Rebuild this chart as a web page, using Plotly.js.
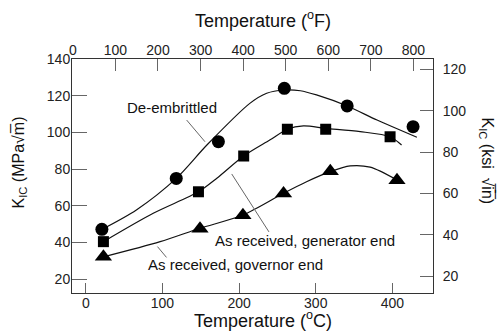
<!DOCTYPE html>
<html>
<head>
<meta charset="utf-8">
<script src="https://cdn.plot.ly/plotly-3.0.1.min.js"></script>
<style>html,body{margin:0;padding:0;background:#fff;}#chart{width:497px;height:333px;}</style>
</head>
<body>
<div id="chart"></div>
<script>
// Measured points (temperature in °C, K_IC in MPa·√m)
const embrT = [21, 118, 173, 259, 341, 427];
const embrK = [47.1, 74.9, 94.9, 124.0, 114.4, 103.1];
const genT = [23, 147, 206, 263, 313, 397];
const genK = [40.4, 67.6, 87.1, 101.7, 101.7, 97.6];
const govT = [23, 149, 205, 258, 319, 406];
const govK = [32.1, 47.5, 54.8, 66.6, 78.8, 73.9];

// Fitted trend curves
const embrFitT = [21, 66, 118, 158, 214, 236, 258, 280, 301, 341, 380, 432];
const embrFitK = [47.1, 57.7, 74.9, 93.1, 115.8, 121.3, 123.1, 122.7, 120.4, 114.4, 106.7, 97.3];
const genFitT = [23, 88, 147, 171, 206, 240, 263, 284, 313, 358, 397, 412];
const genFitK = [40.4, 55.9, 67.6, 75.0, 87.1, 95.8, 101.7, 103.5, 102.2, 100.4, 97.6, 93.1];
const govFitT = [23, 97, 149, 205, 258, 288, 319, 345, 371, 406];
const govFitK = [32.1, 40.4, 47.7, 54.9, 66.8, 73.1, 78.6, 81.7, 81.0, 74.0];

// Tick labels
const tickC = [0, 100, 200, 300, 400];
const tickF = [0, 100, 200, 300, 400, 500, 600, 700, 800];
const tickMPa = [20, 40, 60, 80, 100, 120, 140];
const tickKsi = [20, 40, 60, 80, 100, 120];

const FONT = 'Liberation Sans, Arial, Helvetica, sans-serif';

function curve(x, y) {
  return {x: x, y: y, type: 'scatter', mode: 'lines', line: {color: '#111', width: 1.2, shape: 'spline', smoothing: 0.8}, hoverinfo: 'skip', showlegend: false};
}
function pts(x, y, sym, size) {
  return {x: x, y: y, type: 'scatter', mode: 'markers', marker: {symbol: sym, size: size, color: '#000'}, showlegend: false};
}

const data = [
  curve(embrFitT, embrFitK),
  curve(genFitT, genFitK),
  curve(govFitT, govFitK),
  pts(embrT, embrK, 'circle', 13),
  pts(genT, genK, 'square', 11),
  pts(govT, govK, 'triangle-up', 15),
  {x: [null], y: [null], xaxis: 'x2', yaxis: 'y', type: 'scatter', mode: 'markers', showlegend: false, hoverinfo: 'skip'},
  {x: [null], y: [null], xaxis: 'x', yaxis: 'y2', type: 'scatter', mode: 'markers', showlegend: false, hoverinfo: 'skip'}
];

const axBase = {
  showgrid: false, zeroline: false, showline: true, linecolor: '#333', linewidth: 1,
  ticks: 'inside', ticklen: 13, tickcolor: '#666', tickwidth: 1,
  tickfont: {family: FONT, size: 14, color: '#222'}
};

const layout = {
  width: 497, height: 333,
  margin: {l: 72, r: 64, t: 59, b: 40, pad: 0},
  paper_bgcolor: '#fff', plot_bgcolor: '#fff',
  font: {family: FONT, color: '#111'},
  xaxis: Object.assign({}, axBase, {range: [-18, 453], tickvals: tickC, ticktext: tickC.map(String), ticklen: 10, ticklabelstandoff: -3}),
  xaxis2: Object.assign({}, axBase, {range: [-2, 846], overlaying: 'x', side: 'top', anchor: 'y', tickvals: tickF, ticktext: tickF.map(String), ticklen: 12, ticklabelstandoff: -3}),
  yaxis: Object.assign({}, axBase, {range: [12.4, 140], tickvals: tickMPa, ticktext: tickMPa.map(String), ticklen: 15, ticklabelstandoff: -2}),
  yaxis2: Object.assign({}, axBase, {range: [11.8, 125], overlaying: 'y', side: 'right', anchor: 'x', tickvals: tickKsi, ticktext: tickKsi.map(String), ticklabelstandoff: 6}),
  shapes: [
    {type: 'line', xref: 'x', yref: 'y', x0: 131.6, y0: 106.7, x1: 155.5, y1: 94.9, line: {color: '#666', width: 1}},
    {type: 'line', xref: 'x', yref: 'y', x0: 190.4, y0: 77.3, x1: 239, y1: 45.7, line: {color: '#666', width: 1}},
    {type: 'line', xref: 'x', yref: 'y', x0: 93.5, y0: 37.7, x1: 105.3, y1: 31.8, line: {color: '#666', width: 1}}
  ],
  annotations: [
    {text: 'De-embrittled', x: 113, y: 113.8, xref: 'x', yref: 'y', showarrow: false, xanchor: 'center', yanchor: 'middle', font: {family: FONT, size: 15, color: '#111'}},
    {text: 'As received, generator end', x: 286, y: 40.8, xref: 'x', yref: 'y', showarrow: false, xanchor: 'center', yanchor: 'middle', font: {family: FONT, size: 15, color: '#111'}},
    {text: 'As received, governor end', x: 195.3, y: 27.7, xref: 'x', yref: 'y', showarrow: false, xanchor: 'center', yanchor: 'middle', font: {family: FONT, size: 15, color: '#111'}},
    {text: 'Temperature (<sup>o</sup>F)', x: 0.529, y: 1.1667, xref: 'paper', yref: 'paper', showarrow: false, xanchor: 'center', yanchor: 'middle', font: {family: FONT, size: 18, color: '#111'}},
    {text: 'Temperature (<sup>o</sup>C)', x: 0.5296, y: -0.1153, xref: 'paper', yref: 'paper', showarrow: false, xanchor: 'center', yanchor: 'middle', font: {family: FONT, size: 18, color: '#111'}},
    {text: 'K<sub>IC</sub> (MPa\u221Am\u0305)', x: -0.1468, y: 0.5577, xref: 'paper', yref: 'paper', showarrow: false, textangle: -90, xanchor: 'center', yanchor: 'middle', font: {family: FONT, size: 16, color: '#111'}},
    {text: 'K<sub>IC</sub> (ksi  \u221Ai\u0305n\u0305)', x: 1.1468, y: 0.562, xref: 'paper', yref: 'paper', showarrow: false, textangle: 90, xanchor: 'center', yanchor: 'middle', font: {family: FONT, size: 16, color: '#111'}}
  ]
};

Plotly.newPlot('chart', data, layout, {staticPlot: true, displayModeBar: false});
</script>
</body>
</html>
